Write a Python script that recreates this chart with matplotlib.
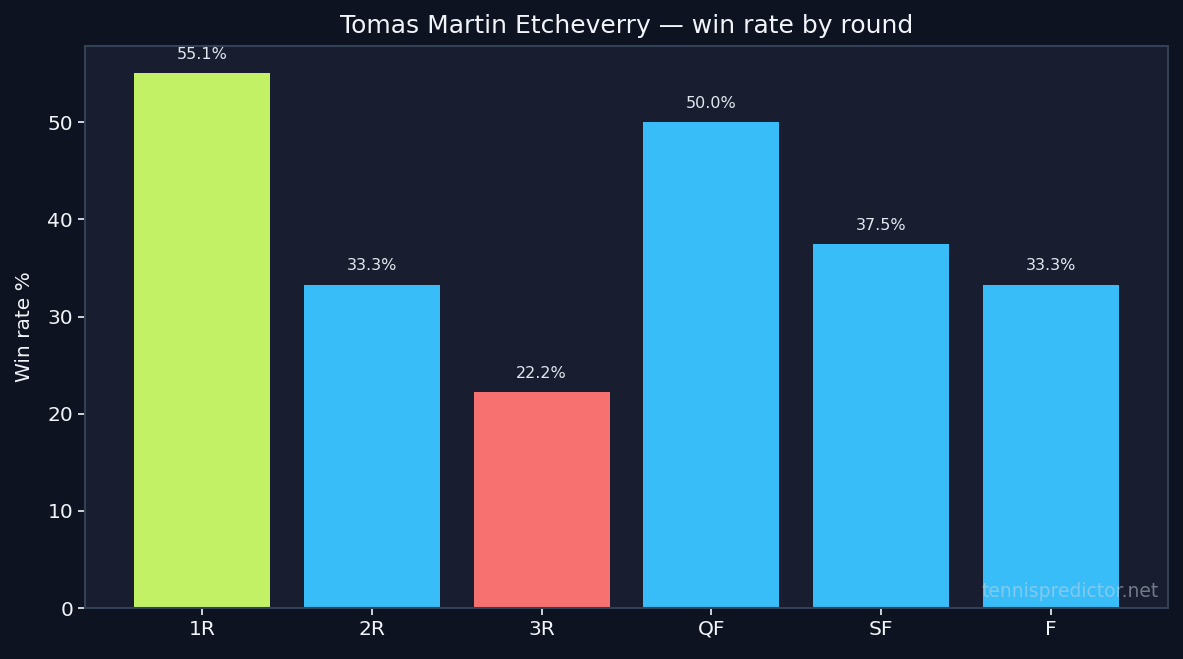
import matplotlib
matplotlib.use("Agg")
import matplotlib.pyplot as plt

plt.rcParams["font.family"] = ["DejaVu Sans"]

rounds = ["1R", "2R", "3R", "QF", "SF", "F"]
win_rates = [55.1, 33.3, 22.2, 50.0, 37.5, 33.3]
bar_colors = ["#c2f166", "#38bdf8", "#f87171", "#38bdf8", "#38bdf8", "#38bdf8"]

BG = "#0d1320"
FACE = "#181d2f"
SPINE = "#334155"
TXT = "#f1f5f9"

fig = plt.figure(figsize=(11.83, 6.59), dpi=100, facecolor=BG)
ax = fig.add_axes([85/1183, 1-608/659, (1168-85)/1183, (608-46)/659])
ax.set_facecolor(FACE)
bars = ax.bar(rounds, win_rates, color=bar_colors, width=0.8)
ax.set_ylim(0, max(win_rates) * 1.05)
for b, v in zip(bars, win_rates):
    ax.annotate(f"{v:.1f}%", (b.get_x() + b.get_width() / 2, v),
                xytext=(0, 8), textcoords="offset points", ha="center", va="bottom",
                color="#e2e8f0", fontsize=11.5)
for s in ax.spines.values():
    s.set_color(SPINE)
    s.set_linewidth(1.5)
ax.tick_params(colors=TXT, labelsize=14.5, length=5, width=1.2)
ax.set_ylabel("Win rate %", color=TXT, fontsize=14.5, labelpad=10)
ax.set_title("Tomas Martin Etcheverry — win rate by round", color=TXT, fontsize=18, pad=9)
ax.text(0.991, 0.013, "tennispredictor.net", transform=ax.transAxes, ha="right", va="bottom",
        color="#cbd5e1", alpha=0.5, fontsize=13.5, zorder=5)
fig.savefig("out.png", dpi=100, facecolor=BG)
